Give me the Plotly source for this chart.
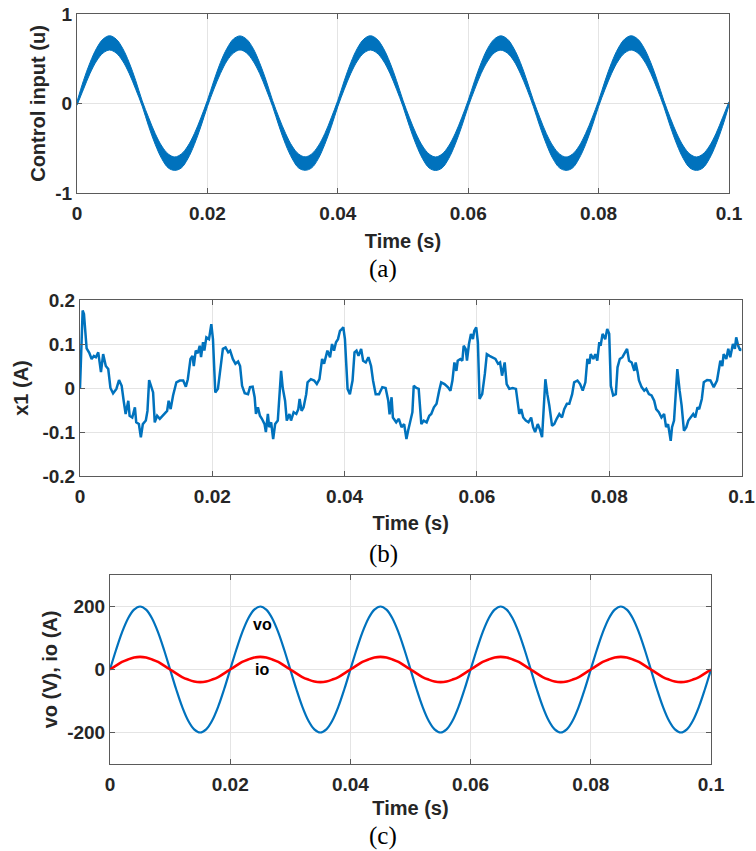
import plotly.graph_objects as go

# ---------------- DATA ----------------
# time grid read at 1 ms steps for panels (a) and (c)
t_ms = list(range(0, 101))

# (a) control input: upper / lower edges of the ripple band
u_upper = [0.02, 0.258, 0.458, 0.617, 0.72, 0.757, 0.72, 0.617, 0.458, 0.258,
           0.03, -0.16, -0.336, -0.475, -0.564, -0.597, -0.564, -0.475, -0.336, -0.16,
           0.035, 0.256, 0.459, 0.616, 0.721, 0.755, 0.719, 0.618, 0.457, 0.259,
           0.034, -0.161, -0.335, -0.476, -0.565, -0.596, -0.563, -0.474, -0.337, -0.159,
           0.035, 0.257, 0.458, 0.617, 0.72, 0.757, 0.72, 0.617, 0.458, 0.258,
           0.035, -0.16, -0.336, -0.475, -0.564, -0.597, -0.564, -0.475, -0.336, -0.16,
           0.036, 0.258, 0.457, 0.618, 0.719, 0.756, 0.721, 0.616, 0.459, 0.257,
           0.035, -0.159, -0.337, -0.474, -0.563, -0.598, -0.565, -0.476, -0.335, -0.161,
           0.034, 0.257, 0.458, 0.617, 0.72, 0.757, 0.72, 0.617, 0.458, 0.258,
           0.035, -0.16, -0.336, -0.475, -0.564, -0.597, -0.564, -0.475, -0.336, -0.16,
           0.02]
u_lower = [-0.02, 0.16, 0.336, 0.475, 0.564, 0.597, 0.564, 0.475, 0.336, 0.16,
           -0.03, -0.258, -0.458, -0.617, -0.72, -0.747, -0.72, -0.617, -0.458, -0.258,
           -0.035, 0.161, 0.335, 0.476, 0.563, 0.598, 0.565, 0.474, 0.337, 0.159,
           -0.034, -0.257, -0.459, -0.616, -0.721, -0.746, -0.719, -0.618, -0.457, -0.259,
           -0.035, 0.16, 0.336, 0.475, 0.564, 0.597, 0.564, 0.475, 0.336, 0.16,
           -0.035, -0.258, -0.458, -0.617, -0.72, -0.748, -0.72, -0.617, -0.458, -0.258,
           -0.036, 0.159, 0.337, 0.474, 0.565, 0.596, 0.563, 0.476, 0.335, 0.161,
           -0.035, -0.257, -0.457, -0.618, -0.719, -0.747, -0.721, -0.616, -0.459, -0.257,
           -0.034, 0.16, 0.336, 0.475, 0.564, 0.597, 0.564, 0.475, 0.336, 0.16,
           -0.035, -0.258, -0.458, -0.617, -0.72, -0.747, -0.72, -0.617, -0.458, -0.258,
           -0.02]

# (b) x1 current, read point by point (time in ms, value in A)
x1_t_ms = [0, 0.4, 0.6, 1.0, 1.4, 1.76, 2.1, 2.4, 2.76, 3.17, 3.5, 3.9, 4.27, 4.6, 5.0, 5.5, 5.9,
           6.3, 6.6, 6.9, 7.3, 7.5, 7.9, 8.3, 8.5, 8.9, 9.2, 9.5, 9.95, 10.2, 10.45, 10.8, 11.05,
           11.3, 11.66, 12.06, 12.46, 12.8, 13.17, 13.4, 13.7, 14.07, 14.57, 15.08, 15.6, 16.0,
           16.3, 16.7, 17.0, 17.2, 17.5, 17.8, 18.1, 18.3, 18.6, 18.8, 19.1, 19.5, 19.85, 20.1,
           20.45, 20.85, 21.2, 21.6, 22.0, 22.4, 22.7, 23.1, 23.5, 23.9, 24.2, 24.5, 24.9, 25.4,
           25.7, 26.1, 26.4, 26.6, 26.9, 27.2, 27.5, 27.9, 28.1, 28.4, 28.6, 28.9, 29.2, 29.5,
           29.9, 30.15, 30.4, 30.65, 31.0, 31.26, 31.66, 31.9, 32.3, 32.7, 33.0, 33.2, 33.5,
           33.8, 34.2, 34.4, 34.9, 35.4, 35.8, 36.2, 36.6, 36.9, 37.2, 37.4, 37.8, 38.1, 38.4,
           38.7, 39.0, 39.3, 39.6, 39.8, 40.05, 40.45, 40.8, 41.2, 41.5, 41.8, 42.1, 42.5, 42.8,
           43.2, 43.6, 44.0, 44.3, 44.7, 45.2, 45.7, 46.2, 46.6, 46.8, 47.1, 47.3, 47.8, 48.2,
           48.6, 49.0, 49.35, 49.6, 49.95, 50.25, 50.45, 50.85, 51.2, 51.6, 51.96, 52.4, 52.8,
           53.1, 53.5, 53.9, 54.3, 54.6, 55.1, 55.6, 56.0, 56.3, 56.6, 56.9, 57.1, 57.5, 57.8,
           58.0, 58.3, 58.5, 58.8, 59.1, 59.4, 59.6, 59.9, 60.15, 60.4, 60.8, 61.2, 61.5, 61.9,
           62.3, 62.8, 63.2, 63.5, 63.8, 64.2, 64.5, 64.9, 65.4, 65.9, 66.4, 66.7, 67.0, 67.4,
           67.8, 68.2, 68.5, 68.8, 69.2, 69.5, 69.85, 70.05, 70.35, 70.65, 70.95, 71.36, 71.7,
           72.06, 72.46, 72.86, 73.2, 73.6, 73.97, 74.4, 74.7, 75.2, 75.6, 76.0, 76.4, 76.7,
           77.0, 77.2, 77.6, 77.9, 78.2, 78.5, 78.7, 79.0, 79.4, 79.7, 80.0, 80.25, 80.6, 81.0,
           81.26, 81.6, 82.0, 82.4, 82.7, 83.0, 83.4, 83.8, 84.0, 84.3, 84.5, 84.9, 85.3, 85.6,
           86.0, 86.4, 86.8, 87.1, 87.5, 87.9, 88.3, 88.6, 88.9, 89.3, 89.5, 89.8, 90.05, 90.3,
           90.65, 90.95, 91.3, 91.66, 91.96, 92.3, 92.7, 93.0, 93.35, 93.6, 94.0, 94.3, 94.8,
           95.3, 95.8, 96.3, 96.8, 97.1, 97.3, 97.7, 98.0, 98.3, 98.7, 99.0, 99.2, 99.5, 99.8,
           100.0]
x1_val = [0.0, 0.176, 0.168, 0.09, 0.08, 0.066, 0.073, 0.07, 0.081, 0.036, 0.077, 0.05, 0.043,
          0.0, -0.012, -0.002, 0.018, 0.005, -0.029, -0.059, -0.029, -0.063, -0.067, -0.044,
          -0.078, -0.082, -0.112, -0.082, -0.074, -0.052, 0.018, 0.0, -0.01, -0.078, -0.063,
          -0.07, -0.063, -0.059, -0.052, -0.029, -0.048, -0.017, 0.013, 0.017, 0.017, 0.003,
          0.02, 0.066, 0.073, 0.05, 0.085, 0.079, 0.096, 0.07, 0.104, 0.085, 0.115, 0.111,
          0.145, 0.111, -0.01, -0.002, 0.039, 0.089, 0.092, 0.081, 0.085, 0.066, 0.055, 0.06,
          0.05, 0.005, -0.012, -0.014, 0.002, 0.003, -0.021, -0.059, -0.044, -0.063, -0.07,
          -0.082, -0.1, -0.059, -0.089, -0.078, -0.116, -0.082, -0.074, -0.006, 0.039, 0.0,
          -0.029, -0.074, -0.059, -0.074, -0.055, -0.059, -0.048, -0.025, -0.052, -0.044,
          -0.014, 0.013, 0.02, 0.017, 0.009, 0.02, 0.066, 0.055, 0.07, 0.085, 0.07, 0.1, 0.085,
          0.104, 0.111, 0.13, 0.134, 0.138, 0.111, -0.002, -0.014, 0.017, 0.081, 0.085, 0.073,
          0.089, 0.062, 0.058, 0.07, 0.05, 0.017, -0.014, -0.014, 0.002, 0.0, -0.029, -0.06,
          -0.021, -0.067, -0.078, -0.07, -0.089, -0.082, -0.116, -0.097, -0.074, -0.055, 0.005,
          0.0, -0.002, -0.082, -0.074, -0.078, -0.063, -0.059, -0.044, -0.036, -0.006, 0.013,
          0.009, 0.002, -0.006, 0.017, 0.058, 0.039, 0.062, 0.066, 0.062, 0.096, 0.089, 0.062,
          0.1, 0.123, 0.111, 0.13, 0.138, 0.104, -0.025, -0.014, 0.032, 0.077, 0.073, 0.07,
          0.066, 0.055, 0.058, 0.028, 0.058, 0.009, -0.002, 0.0, -0.002, -0.059, -0.048, -0.067,
          -0.074, -0.078, -0.067, -0.089, -0.1, -0.082, -0.093, -0.112, -0.044, 0.02, -0.014,
          -0.04, -0.086, -0.082, -0.07, -0.059, -0.067, -0.048, -0.036, -0.036, -0.014, 0.013,
          0.017, 0.009, -0.006, 0.013, 0.066, 0.055, 0.077, 0.066, 0.077, 0.062, 0.104, 0.096,
          0.123, 0.111, 0.134, 0.123, 0.005, -0.017, -0.014, 0.047, 0.066, 0.07, 0.081, 0.089,
          0.062, 0.058, 0.039, 0.058, 0.036, 0.017, 0.002, -0.006, -0.002, -0.014, -0.017,
          -0.029, -0.048, -0.055, -0.067, -0.059, -0.089, -0.082, -0.12, -0.089, -0.074, -0.01,
          0.043, -0.006, -0.04, -0.097, -0.089, -0.074, -0.067, -0.059, -0.067, -0.044, -0.048,
          -0.025, 0.013, 0.018, 0.017, 0.002, 0.017, 0.062, 0.05, 0.077, 0.066, 0.089, 0.07,
          0.1, 0.089, 0.115, 0.096, 0.085, 0.09]

# (c) output voltage and current at 1 ms steps
vo_val = [0, 62, 118, 162, 190, 200, 190, 162, 118, 62, 0, -62, -118, -162, -190, -200, -190, -162, -118, -62,
          0, 62, 118, 162, 190, 200, 190, 162, 118, 62, 0, -62, -118, -162, -190, -200, -190, -162, -118, -62,
          0, 62, 118, 162, 190, 200, 190, 162, 118, 62, 0, -62, -118, -162, -190, -200, -190, -162, -118, -62,
          0, 62, 118, 162, 190, 200, 190, 162, 118, 62, 0, -62, -118, -162, -190, -200, -190, -162, -118, -62,
          0, 62, 118, 162, 190, 200, 190, 162, 118, 62, 0, -62, -118, -162, -190, -200, -190, -162, -118, -62,
          0]
io_val = [0, 12, 24, 32, 38, 40, 38, 32, 24, 12, 0, -12, -24, -32, -38, -40, -38, -32, -24, -12,
          0, 12, 24, 32, 38, 40, 38, 32, 24, 12, 0, -12, -24, -32, -38, -40, -38, -32, -24, -12,
          0, 12, 24, 32, 38, 40, 38, 32, 24, 12, 0, -12, -24, -32, -38, -40, -38, -32, -24, -12,
          0, 12, 24, 32, 38, 40, 38, 32, 24, 12, 0, -12, -24, -32, -38, -40, -38, -32, -24, -12,
          0, 12, 24, 32, 38, 40, 38, 32, 24, 12, 0, -12, -24, -32, -38, -40, -38, -32, -24, -12,
          0]

# tick values / labels
x_tickvals = [0, 0.02, 0.04, 0.06, 0.08, 0.1]
x_ticktext = ["0", "0.02", "0.04", "0.06", "0.08", "0.1"]
ya_tickvals = [-1, 0, 1]
ya_ticktext = ["-1", "0", "1"]
yb_tickvals = [-0.2, -0.1, 0, 0.1, 0.2]
yb_ticktext = ["-0.2", "-0.1", "0", "0.1", "0.2"]
yc_tickvals = [-200, 0, 200]
yc_ticktext = ["-200", "0", "200"]

# ---------------- FIGURE ----------------
W, H = 756, 851
BLUE = "#0072BD"
RED = "#FF0000"
t_s = [v / 1000 for v in t_ms]
x1_t = [v / 1000 for v in x1_t_ms]

fig = go.Figure()
fig.add_trace(go.Scatter(x=t_s, y=u_lower, mode="lines", line=dict(color=BLUE, width=1, shape="spline"),
                         xaxis="x", yaxis="y", showlegend=False, hoverinfo="skip"))
fig.add_trace(go.Scatter(x=t_s, y=u_upper, mode="lines", line=dict(color=BLUE, width=1, shape="spline"),
                         fill="tonexty", fillcolor=BLUE, xaxis="x", yaxis="y", showlegend=False,
                         name="Control input (u)"))
fig.add_trace(go.Scatter(x=x1_t, y=x1_val, mode="lines", line=dict(color=BLUE, width=2.5),
                         xaxis="x2", yaxis="y2", showlegend=False, name="x1"))
fig.add_trace(go.Scatter(x=t_s, y=vo_val, mode="lines", line=dict(color=BLUE, width=2.2, shape="spline"),
                         xaxis="x3", yaxis="y3", showlegend=False, name="vo"))
fig.add_trace(go.Scatter(x=t_s, y=io_val, mode="lines", line=dict(color=RED, width=2.6, shape="spline"),
                         xaxis="x3", yaxis="y3", showlegend=False, name="io"))

FONT = "Liberation Sans, Arial, sans-serif"
tickfont = dict(family=FONT, size=19, color="#262626", weight="bold")
titlefont = dict(family=FONT, size=20, color="#262626", weight="bold")
AX = dict(showline=True, linecolor="#5a5a5a", linewidth=1, mirror="ticks", ticks="inside",
          ticklen=5, tickcolor="#5a5a5a", showgrid=True, gridcolor="#e4e4e4", gridwidth=1,
          zeroline=False, tickfont=tickfont, fixedrange=True, automargin=False)
XAX = dict(AX, ticklabelstandoff=3)


def px_dom_x(l, r):
    return [l / W, r / W]


def px_dom_y(top, bottom):
    return [1 - bottom / H, 1 - top / H]


fig.update_layout(
    width=W, height=H, margin=dict(l=0, r=0, t=0, b=0, autoexpand=False),
    paper_bgcolor="white", plot_bgcolor="white", showlegend=False,
    xaxis=dict(XAX, domain=px_dom_x(77, 729), anchor="y", range=[0, 0.1],
               tickvals=x_tickvals, ticktext=x_ticktext,
               title=dict(text="Time (s)", font=titlefont, standoff=11)),
    yaxis=dict(AX, domain=px_dom_y(14, 193), anchor="x", range=[-1, 1],
               tickvals=ya_tickvals, ticktext=ya_ticktext,
               title=dict(text="Control input (u)", font=titlefont, standoff=4)),
    xaxis2=dict(XAX, domain=px_dom_x(80, 741.5), anchor="y2", range=[0, 0.1],
                tickvals=x_tickvals, ticktext=x_ticktext,
                title=dict(text="Time (s)", font=titlefont, standoff=10)),
    yaxis2=dict(AX, domain=px_dom_y(300, 476), anchor="x2", range=[-0.2, 0.2],
                tickvals=yb_tickvals, ticktext=yb_ticktext,
                title=dict(text="x1 (A)", font=titlefont, standoff=8)),
    xaxis3=dict(XAX, domain=px_dom_x(110, 711), anchor="y3", range=[0, 0.1],
                tickvals=x_tickvals, ticktext=x_ticktext,
                title=dict(text="Time (s)", font=titlefont, standoff=7)),
    yaxis3=dict(AX, domain=px_dom_y(575, 764), anchor="x3", range=[-300, 300],
                tickvals=yc_tickvals, ticktext=yc_ticktext,
                title=dict(text="vo (V), io (A)", font=titlefont, standoff=4)),
)

serif = dict(family="Liberation Serif, Times New Roman, serif", size=25, color="black")
for lab, yc in [("(a)", 269), ("(b)", 554), ("(c)", 836)]:
    fig.add_annotation(text=lab, x=383 / W, y=1 - yc / H, xref="paper", yref="paper",
                       showarrow=False, font=serif, xanchor="center", yanchor="middle")

lblfont = dict(family=FONT, size=16, color="black", weight="bold")
fig.add_annotation(text="vo", x=0.0253, y=143, xref="x3", yref="y3", showarrow=False, font=lblfont)
fig.add_annotation(text="io", x=0.0253, y=0, xref="x3", yref="y3", showarrow=False, font=lblfont)

fig.write_html("out.html")
